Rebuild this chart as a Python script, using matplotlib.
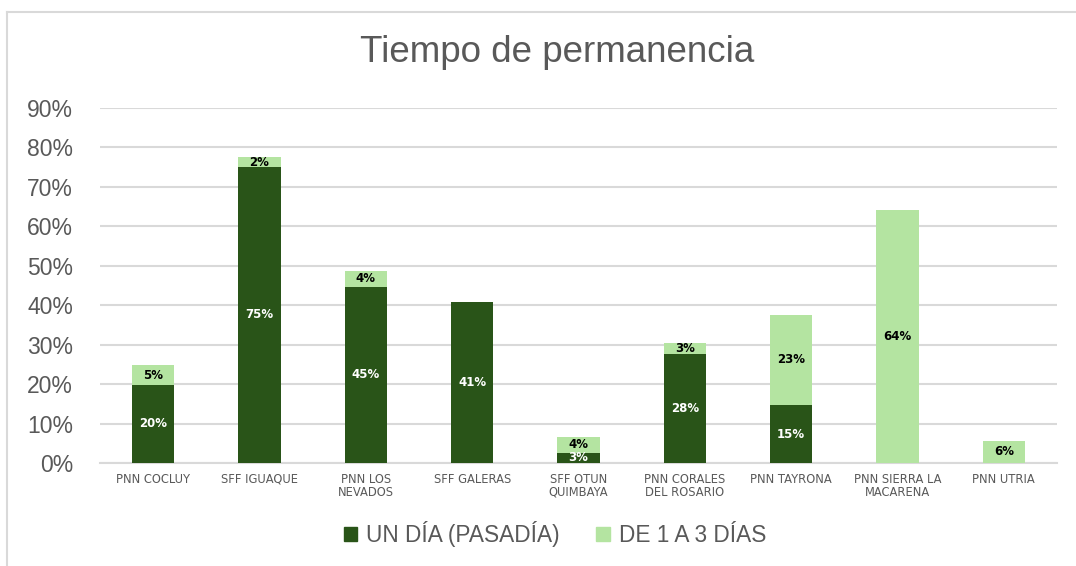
import matplotlib
matplotlib.use("Agg")
import matplotlib.pyplot as plt
from matplotlib.lines import Line2D
from matplotlib.patches import Patch

categories = ["PNN COCLUY", "SFF IGUAQUE", "PNN LOS\nNEVADOS", "SFF GALERAS",
              "SFF OTUN\nQUIMBAYA", "PNN CORALES\nDEL ROSARIO", "PNN TAYRONA",
              "PNN SIERRA LA\nMACARENA", "PNN UTRIA"]
un_dia = [19.8, 75.1, 44.7, 40.9, 2.6, 27.7, 14.7, 0.0, 0.0]
de_1_a_3 = [5.0, 2.4, 4.0, 0.0, 4.1, 2.8, 22.9, 64.2, 5.6]
yticks = [0, 10, 20, 30, 40, 50, 60, 70, 80, 90]
series_names = ["UN DÍA (PASADÍA)", "DE 1 A 3 DÍAS"]

dark = "#295418"
light = "#B4E4A1"
grid_c = "#D9D9D9"
text_c = "#595959"

fig = plt.figure(figsize=(10.76, 5.66), dpi=100)
ax = fig.add_axes([100/1076, 1 - 463/566, 957/1076, 355/566])

x = list(range(len(categories)))
w = 0.4
ax.bar(x, un_dia, width=w, color=dark, zorder=3)
ax.bar(x, de_1_a_3, width=w, bottom=un_dia, color=light, zorder=3)

for i in x:
    if un_dia[i] > 0:
        ax.text(i, un_dia[i] / 2, f"{round(un_dia[i])}%", ha="center", va="center",
                color="white", fontsize=8.5, fontweight="bold", family="DejaVu Sans", zorder=4)
    if de_1_a_3[i] > 0:
        ax.text(i, un_dia[i] + de_1_a_3[i] / 2, f"{round(de_1_a_3[i])}%", ha="center", va="center",
                color="black", fontsize=8.5, fontweight="bold", family="DejaVu Sans", zorder=4)

ax.set_xlim(-0.5, len(categories) - 0.5)
ax.set_ylim(0, 90)
ax.set_yticks(yticks)
ax.set_yticklabels([f"{t}%" for t in yticks], fontsize=16.5, color=text_c, family="Liberation Sans")
ax.set_xticks(x)
ax.set_xticklabels(categories, fontsize=8.3, color=text_c, family="DejaVu Sans", linespacing=1.0)
ax.yaxis.grid(True, color=grid_c, linewidth=1.5, zorder=0)
ax.tick_params(axis="both", length=0)
ax.tick_params(axis="y", pad=19.5)
ax.tick_params(axis="x", pad=7)
for s in ["top", "right", "left"]:
    ax.spines[s].set_visible(False)
ax.spines["bottom"].set_color(grid_c)
ax.spines["bottom"].set_linewidth(1.5)

fig.text(557/1076, 1 - 52/566, "Tiempo de permanencia", ha="center", va="center",
         fontsize=26.5, color=text_c, family="Liberation Sans")

handles = [Patch(color=dark), Patch(color=light)]
fig.legend(handles, series_names, loc="center", bbox_to_anchor=(555/1076, 1 - 534/566),
           ncol=2, frameon=False, handlelength=0.6, handleheight=0.6,
           handletextpad=0.4, columnspacing=1.6,
           prop={"family": "Liberation Sans", "size": 16.3}, labelcolor=text_c)

fig.add_artist(Line2D([7/1076, 7/1076], [0, 1 - 12/566], color=grid_c, linewidth=1.5))
fig.add_artist(Line2D([7/1076, 1], [1 - 12/566, 1 - 12/566], color=grid_c, linewidth=1.5))

fig.savefig("out.png", dpi=100)
